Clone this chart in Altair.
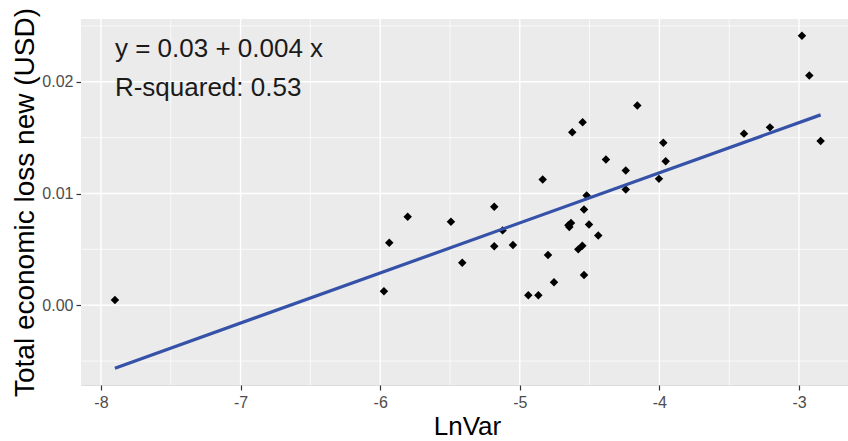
import altair as alt
import pandas as pd

# Data
lnvar = [-7.900, -5.973, -5.935, -5.803, -5.493, -5.412, -5.183, -5.183, -5.123, -5.049,
         -4.939, -4.867, -4.836, -4.798, -4.755, -4.652, -4.633, -4.645, -4.624, -4.581,
         -4.552, -4.550, -4.540, -4.540, -4.521, -4.504, -4.438, -4.383, -4.241, -4.241,
         -4.158, -4.003, -3.972, -3.955, -3.394, -3.208, -2.979, -2.926, -2.845]
loss = [0.00047, 0.00125, 0.00560, 0.00792, 0.00747, 0.00381, 0.00881, 0.00527, 0.00670, 0.00539,
        0.00089, 0.00089, 0.01125, 0.00449, 0.00205, 0.00717, 0.00735, 0.00700, 0.01548, 0.00500,
        0.00533, 0.01637, 0.00857, 0.00271, 0.00982, 0.00723, 0.00625, 0.01304, 0.01205, 0.01036,
        0.01788, 0.01131, 0.01455, 0.01289, 0.01536, 0.01592, 0.02413, 0.02056, 0.01470]

x_ticks = [-8, -7, -6, -5, -4, -3]
x_minor = [-7.5, -6.5, -5.5, -4.5, -3.5]
y_ticks = [0.0, 0.01, 0.02]
y_minor = [-0.005, 0.005, 0.015, 0.025]
annotation_lines = ["y = 0.03 + 0.004 x", "R-squared: 0.53"]

df = pd.DataFrame({"x": lnvar, "y": loss})
ann = pd.DataFrame({"x": [-7.9, -7.9], "y": [0.02221, 0.01869], "t": annotation_lines})

FONT = "Liberation Sans"

x_enc = alt.X(
    "x:Q",
    scale=alt.Scale(domain=[-8.143, -2.649], nice=False, zero=False),
    axis=alt.Axis(
        values=x_ticks, labelExpr="'' + datum.value", title="LnVar",
        titleFontSize=26, titleFontWeight="normal", titleColor="black",
        titleX=386, titleY=49, titleBaseline="alphabetic",
        labelFontSize=16, labelColor="#4D4D4D", labelPadding=4,
        tickSize=5, tickColor="#333333", tickWidth=1.2,
        domain=False, grid=True, gridColor="white", gridWidth=1.4,
    ),
)
y_enc = alt.Y(
    "y:Q",
    scale=alt.Scale(domain=[-0.00714, 0.02562], nice=False, zero=False),
    axis=alt.Axis(
        values=y_ticks, format=".2f", title="Total economic loss new (USD)",
        titleFontSize=28, titleFontWeight="normal", titleColor="black",
        titleX=-48, titleY=183, titleBaseline="alphabetic", titleAngle=270,
        labelFontSize=16, labelColor="#4D4D4D", labelPadding=3,
        tickSize=5, tickColor="#333333", tickWidth=1.2,
        domain=False, grid=True, gridColor="white", gridWidth=1.4,
    ),
)

panel = alt.Chart(pd.DataFrame({"x": [0]})).mark_rect(color="#EBEBEB").encode(
    x=alt.value(0), x2=alt.value(767), y=alt.value(0), y2=alt.value(366))

minor_x = alt.Chart(pd.DataFrame({"x": x_minor})).mark_rule(
    color="white", strokeWidth=0.7).encode(x=x_enc)
minor_y = alt.Chart(pd.DataFrame({"y": y_minor})).mark_rule(
    color="white", strokeWidth=0.7).encode(y=y_enc)
major_x = alt.Chart(pd.DataFrame({"x": x_ticks})).mark_rule(
    color="white", strokeWidth=1.4).encode(x=x_enc)
major_y = alt.Chart(pd.DataFrame({"y": y_ticks})).mark_rule(
    color="white", strokeWidth=1.4).encode(y=y_enc)

points = alt.Chart(df).mark_point(
    shape="diamond", filled=True, color="black", opacity=1, size=72
).encode(x=x_enc, y=y_enc)

fit = alt.Chart(df).transform_regression("x", "y").mark_line(
    color="#3552A8", strokeWidth=3.2
).encode(x=x_enc, y=y_enc)

text = alt.Chart(ann).mark_text(
    align="left", baseline="alphabetic", fontSize=26, font=FONT, color="#1A1A1A"
).encode(x=x_enc, y=y_enc, text="t:N")

chart = alt.layer(panel, minor_x, minor_y, major_x, major_y, points, fit, text).properties(
    width=767, height=366,
    padding={"left": 81, "top": 19, "right": 0, "bottom": 56},
    autosize=alt.AutoSizeParams(type="none"),
    background="white",
).configure_view(fill="#EBEBEB", fillOpacity=1, strokeWidth=0).configure(font=FONT)

chart.save("out.html", embed_options={"renderer": "svg", "actions": False})
